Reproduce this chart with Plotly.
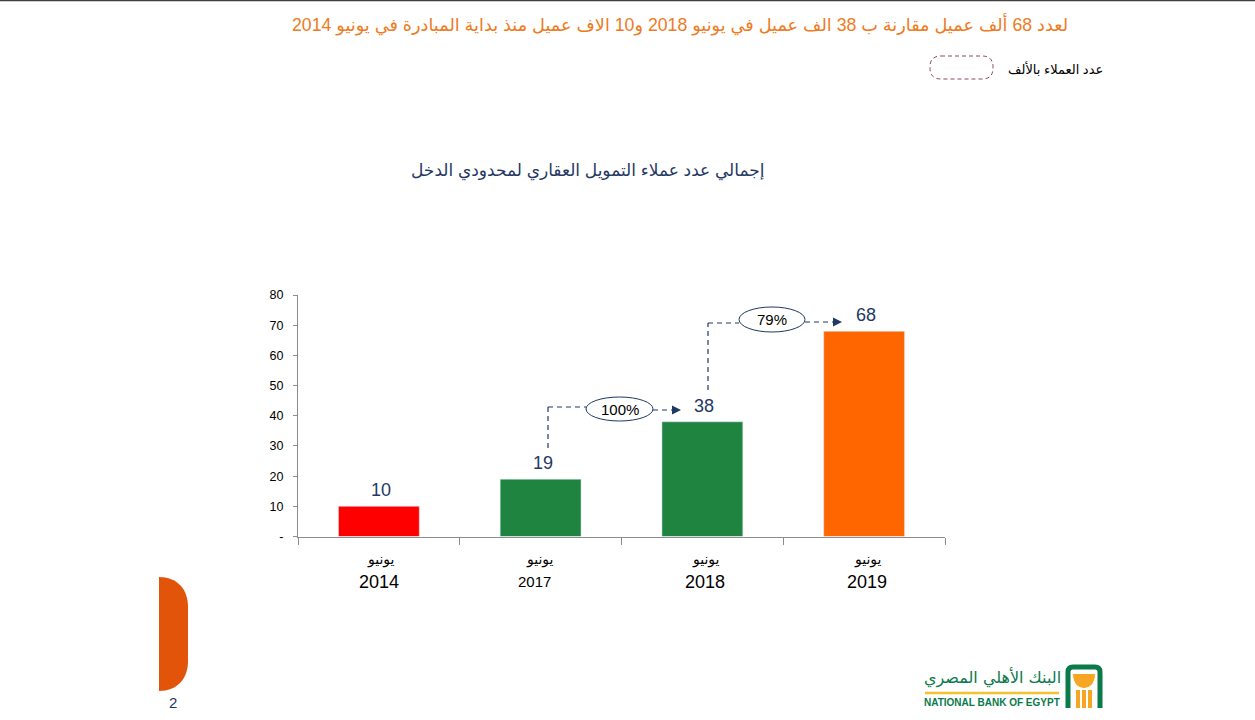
import plotly.graph_objects as go

W, H = 1255, 720
categories = ["2014", "2017", "2018", "2019"]
month = "يونيو"
values = [10, 19, 38, 68]
bar_colors = ["#FF0000", "#1E843F", "#1E843F", "#FF6600"]
y_ticks = [0, 10, 20, 30, 40, 50, 60, 70, 80]
y_labels = ["-", "10", "20", "30", "40", "50", "60", "70", "80"]
year_sizes = [18, 15, 18, 18]
year_shift = [0, -6, 3, 3]

headline = "لعدد 68 ألف عميل مقارنة ب 38 الف عميل في يونيو 2018 و10 الاف عميل منذ بداية المبادرة في يونيو 2014"
legend_text = "عدد العملاء بالألف"
chart_title = "إجمالي عدد عملاء التمويل العقاري لمحدودي الدخل"
FONT = "Liberation Sans, Arial, DejaVu Sans, sans-serif"
NAVY = "#1F3864"
SHORT = "5px,4px"


def px(x):
    return x / W


def py(y):
    return 1 - y / H


positions = list(range(len(categories)))
fig = go.Figure(go.Bar(x=positions, y=values, marker_color=bar_colors, width=0.5,
                       hoverinfo="skip"))

shapes, ann = [], []


def line(x0, y0, x1, y1, color=NAVY, dash=SHORT, w=1.2):
    shapes.append(dict(type="line", xref="paper", yref="paper", x0=px(x0), x1=px(x1),
                       y0=py(y0), y1=py(y1), line=dict(color=color, width=w, dash=dash)))


def text(x, y, s, size, color="#000000", anchor="center", font=FONT):
    ann.append(dict(xref="paper", yref="paper", x=px(x), y=py(y), text=s, showarrow=False,
                    xanchor=anchor, yanchor="middle",
                    font=dict(size=size, color=color, family=font)))


def right_round(x0, y0, x1, y1, r0):
    """Rounded only on the right side."""
    return (f"M {px(x0)} {py(y0)} C {px(x0+r0*.6)} {py(y0)} {px(x1)} {py(y0+r0*.4)} {px(x1)} {py(y0+r0)} "
            f"L {px(x1)} {py(y1-r0)} C {px(x1)} {py(y1-r0*.4)} {px(x0+r0*.6)} {py(y1)} {px(x0)} {py(y1)} Z")


def round_rect(x0, y0, x1, y1, r):
    return (f"M {px(x0+r)} {py(y0)} L {px(x1-r)} {py(y0)} Q {px(x1)} {py(y0)} {px(x1)} {py(y0+r)} "
            f"L {px(x1)} {py(y1-r)} Q {px(x1)} {py(y1)} {px(x1-r)} {py(y1)} "
            f"L {px(x0+r)} {py(y1)} Q {px(x0)} {py(y1)} {px(x0)} {py(y1-r)} "
            f"L {px(x0)} {py(y0+r)} Q {px(x0)} {py(y0)} {px(x0+r)} {py(y0)} Z")


# top rule
line(0, 0.5, W, 0.5, "#404040", "solid", 1.5)

# headline, legend key, chart title
text(679.5, 25, headline, 17.7, "#EE7B22")
shapes.append(dict(type="path", xref="paper", yref="paper", path=round_rect(930, 56, 993, 79, 11),
                   line=dict(color="#8C4A5E", width=1, dash="4px,3px"), fillcolor="rgba(0,0,0,0)"))
text(1105, 69, legend_text, 13, anchor="right")
text(587.5, 171, chart_title, 17, NAVY)

# data labels and category labels come from the data arrays
for i, (c, v) in enumerate(zip(categories, values)):
    ann.append(dict(x=i, y=v, xref="x", yref="y", text=str(v), showarrow=False, yshift=16, xshift=2,
                    yanchor="middle", font=dict(size=18, color=NAVY, family=FONT)))
    ann.append(dict(x=i, y=0, xref="x", yref="y", text=month, showarrow=False, yshift=-23,
                    xshift=year_shift[i] * 0.5 + 2, yanchor="middle",
                    font=dict(size=14, color="#000000", family=FONT)))
    ann.append(dict(x=i, y=0, xref="x", yref="y", text=c, showarrow=False, yshift=-45,
                    xshift=year_shift[i], yanchor="middle",
                    font=dict(size=year_sizes[i], color="#000000", family=FONT)))

# growth connectors
line(548, 448, 548, 407)
line(548, 407, 586, 407)
line(653, 410, 672, 410)
line(708, 390, 708, 323)
line(708, 323, 739, 323)
line(805, 322, 833, 322)
for xa, ya in [(681, 410), (842, 322)]:
    ann.append(dict(xref="paper", yref="paper", x=px(xa), y=py(ya),
                    ax=-10, ay=0, text="", showarrow=True, arrowhead=2, arrowsize=1.2,
                    arrowwidth=1.5, arrowcolor=NAVY))
for x0, x1, y0, y1, lab, size in [(586, 653, 397, 421, "100%", 15), (739, 805, 307, 332, "79%", 15)]:
    shapes.append(dict(type="circle", xref="paper", yref="paper", x0=px(x0), x1=px(x1), y0=py(y0), y1=py(y1),
                       line=dict(color=NAVY, width=1), fillcolor="#FFFFFF", layer="above"))
    text((x0 + x1) / 2, (y0 + y1) / 2, lab, size)

# orange tab and page number
shapes.append(dict(type="path", xref="paper", yref="paper", path=right_round(159, 577, 188, 691, 30),
                   fillcolor="#E2540A", line=dict(width=0)))
text(173, 702, "2", 15, NAVY)

# bank logo
GREEN = "#0B7A4B"
shapes.append(dict(type="path", xref="paper", yref="paper",
                   path=(f"M {px(1068)} {py(708)} L {px(1068)} {py(672)} Q {px(1068)} {py(667)} {px(1073)} {py(667)} "
                         f"L {px(1095)} {py(667)} Q {px(1100)} {py(667)} {px(1100)} {py(672)} L {px(1100)} {py(708)}"),
                   fillcolor="rgba(0,0,0,0)", line=dict(color=GREEN, width=5)))
shapes.append(dict(type="path", xref="paper", yref="paper",
                   path=(f"M {px(1073)} {py(674)} L {px(1095)} {py(674)} C {px(1095)} {py(685)} {px(1088)} {py(688)} "
                         f"{px(1084)} {py(688)} C {px(1080)} {py(688)} {px(1073)} {py(685)} {px(1073)} {py(674)} Z"),
                   fillcolor="#F6A623", line=dict(width=0)))
for bx in (1076, 1082, 1088):
    shapes.append(dict(type="rect", xref="paper", yref="paper", x0=px(bx), x1=px(bx + 4), y0=py(690), y1=py(708),
                       fillcolor="#F6A623", line=dict(width=0)))
text(992, 677, "البنك الأهلي المصري", 16, GREEN, font="DejaVu Sans, sans-serif")
line(925, 693, 1059, 693, "#F2C230", "solid", 2.5)
text(992, 702, "<b>NATIONAL BANK OF EGYPT</b>", 10, GREEN)

fig.update_layout(
    width=W, height=H, margin=dict(l=0, r=0, t=0, b=0, autoexpand=False), autosize=False,
    paper_bgcolor="#FFFFFF", plot_bgcolor="#FFFFFF", showlegend=False,
    font=dict(family=FONT, color="#000000", size=12),
    shapes=shapes, annotations=ann,
    xaxis=dict(domain=[px(298), px(945)], range=[-0.5, 3.5], tickmode="array", automargin=False,
               tickvals=[-0.5, 0.5, 1.5, 2.5, 3.5], ticktext=["", "", "", "", ""],
               ticks="outside", ticklen=7, tickcolor="#8C8C8C", linecolor="#8C8C8C", showline=True,
               showgrid=False, zeroline=False),
    yaxis=dict(domain=[py(536.5), py(295)], range=[0, 80], tickvals=y_ticks, ticktext=y_labels, ticks="outside",
               ticklen=4, tickcolor="#8C8C8C", linecolor="#8C8C8C", showline=True, showgrid=False, zeroline=False,
               automargin=False, ticklabelstandoff=7,
               tickfont=dict(size=12.5, color="#000000", family=FONT)),
)
fig.write_html("out.html", config={"displayModeBar": False},
               post_script="document.body.style.margin='0';document.documentElement.style.overflow='hidden';")
